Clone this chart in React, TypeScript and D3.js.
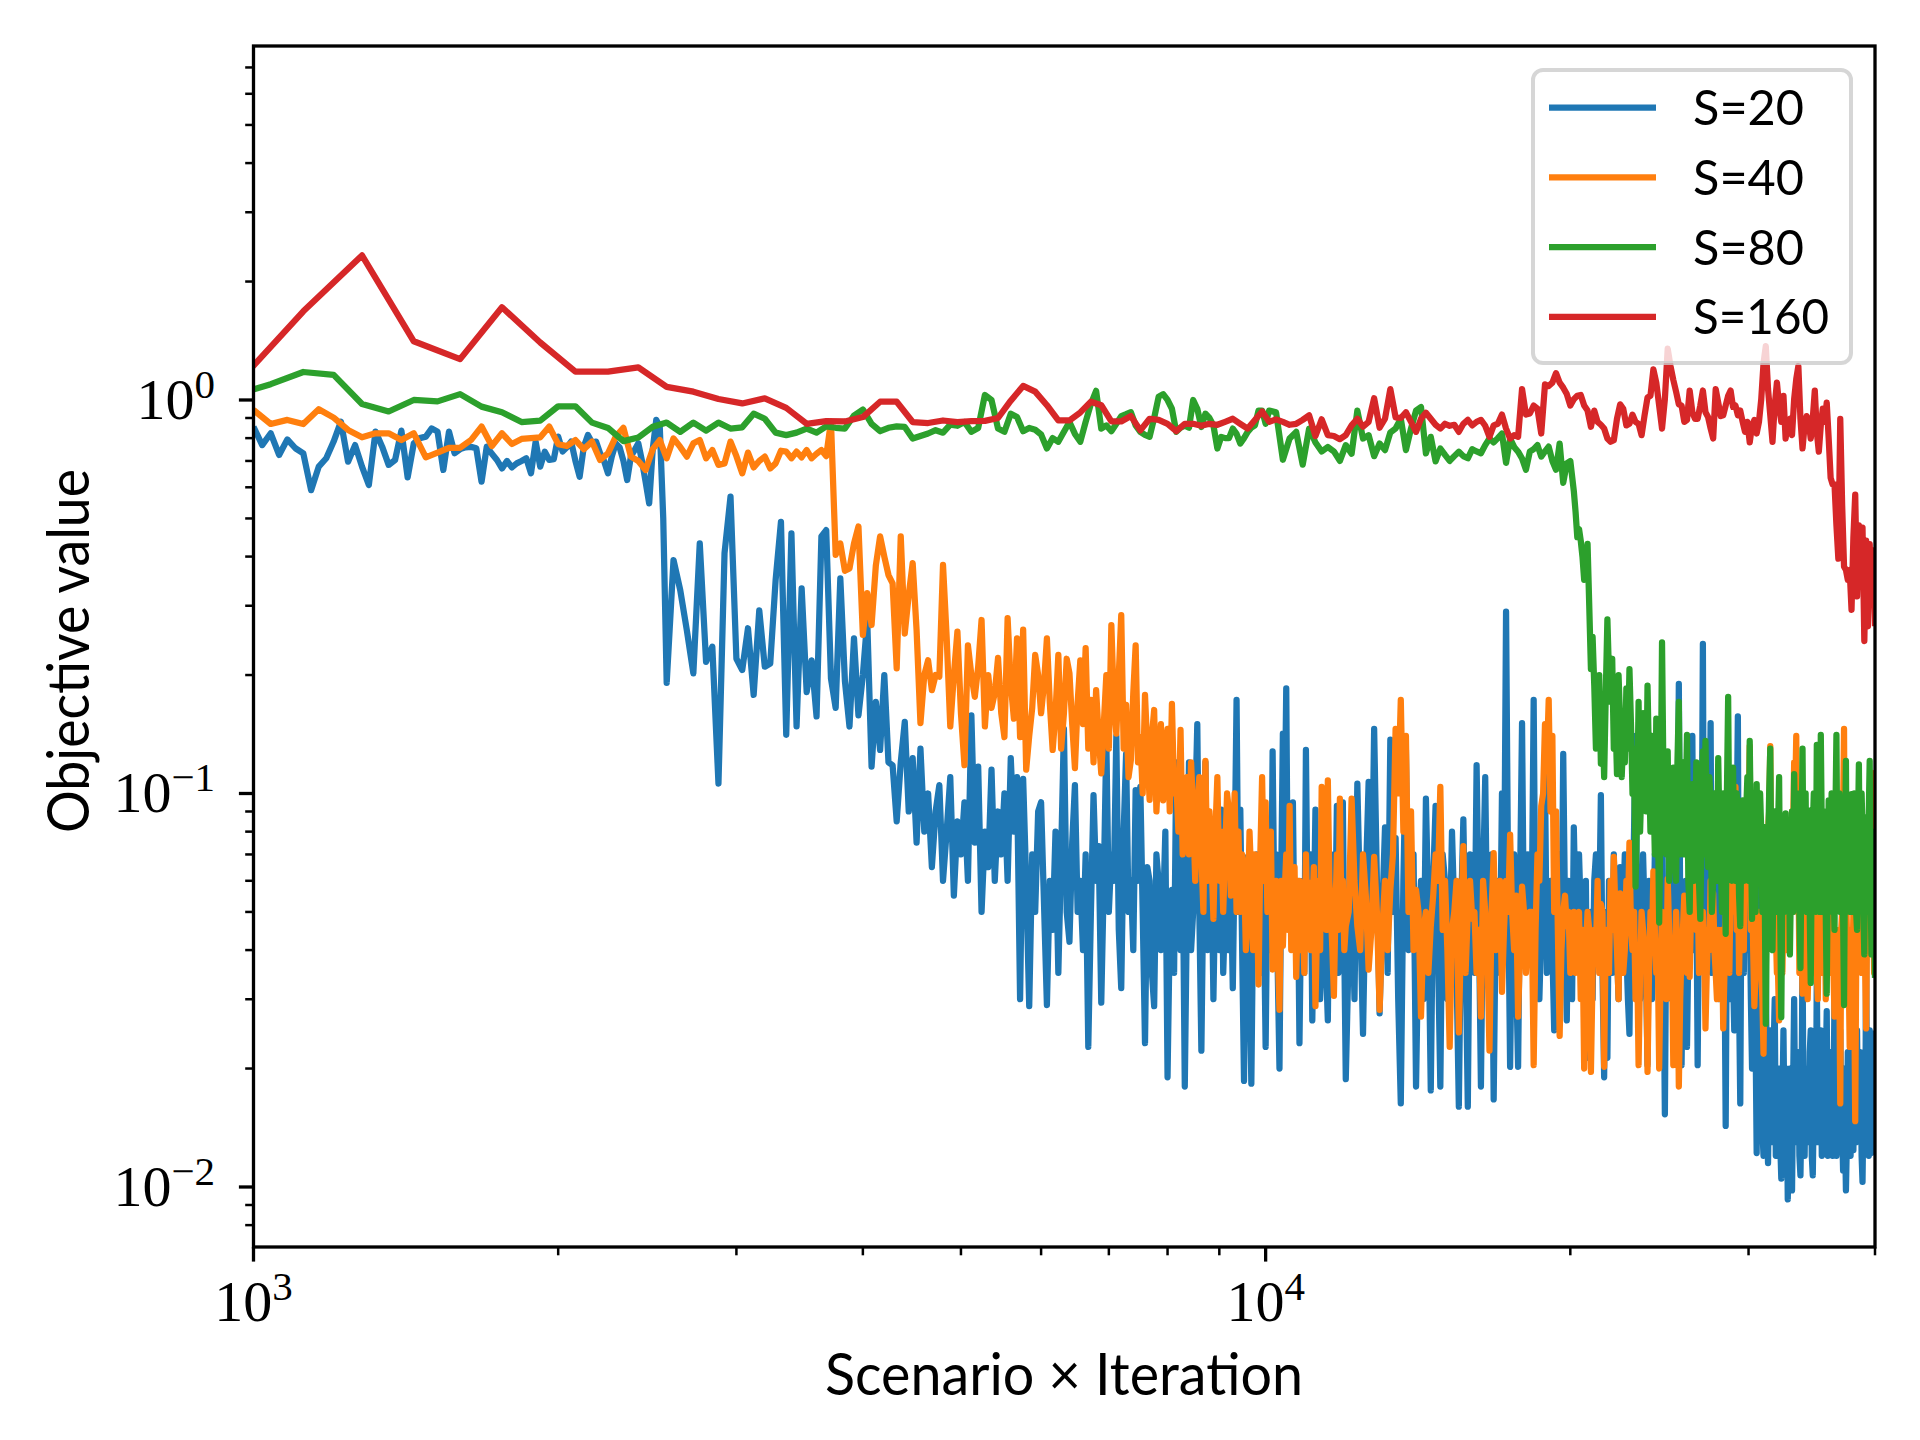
import React from 'react';
import * as d3 from 'd3';

// ---- data ----
// each segment: [first x, last x, values evenly spaced in between]

// S=20
const s20a = [0.855, 0.768, 0.823, 0.725, 0.794, 0.754, 0.732, 0.59, 0.677, 0.711, 0.784, 0.881, 0.697, 0.768, 0.677, 0.608, 0.831, 0.761, 0.684, 0.704, 0.836, 0.636, 0.776, 0.8, 0.807, 0.847, 0.831, 0.664, 0.831, 0.732, 0.75, 0.758, 0.76, 0.754, 0.62, 0.761, 0.73, 0.704, 0.67, 0.7, 0.674, 0.69, 0.7, 0.711, 0.651, 0.784, 0.677, 0.739, 0.704, 0.707, 0.807, 0.74, 0.758, 0.784, 0.7, 0.638, 0.76, 0.815, 0.78, 0.784, 0.732, 0.7, 0.651, 0.72, 0.776, 0.758, 0.7, 0.626, 0.72, 0.746, 0.776, 0.7, 0.62, 0.546, 0.75, 0.89, 0.855, 0.5];
const s20b = [0.191, 0.392, 0.329, 0.26, 0.202, 0.432, 0.216, 0.236, 0.106, 0.408, 0.568, 0.22, 0.206, 0.263, 0.178, 0.292, 0.21, 0.214, 0.349, 0.49, 0.141, 0.458, 0.148, 0.332, 0.181, 0.218, 0.157, 0.45, 0.467, 0.196, 0.165, 0.352, 0.193, 0.148, 0.248, 0.158, 0.2, 0.276, 0.117, 0.171, 0.129, 0.2, 0.12, 0.118, 0.085, 0.12, 0.152, 0.09, 0.123, 0.075, 0.13, 0.08, 0.1, 0.065, 0.09, 0.105, 0.06, 0.08, 0.11, 0.055, 0.085, 0.07, 0.095, 0.06, 0.158, 0.075, 0.117, 0.05, 0.08, 0.065, 0.115, 0.06, 0.09, 0.07, 0.1, 0.06, 0.123, 0.08, 0.11, 0.03, 0.109, 0.06, 0.0288, 0.07, 0.05, 0.09, 0.095];
const s20c = [
  0.029, 0.06, 0.045, 0.08, 0.035, 0.07, 0.146, 0.05, 0.042, 0.075,
  0.105, 0.05, 0.06, 0.04, 0.07, 0.0227, 0.05, 0.099, 0.06, 0.0735,
  0.0294, 0.06, 0.137, 0.05, 0.07, 0.06, 0.14, 0.045, 0.032, 0.08,
  0.126, 0.05, 0.06, 0.04, 0.102, 0.06, 0.104, 0.05, 0.0232, 0.065,
  0.06, 0.035, 0.0288, 0.07, 0.0594, 0.04, 0.05, 0.08, 0.019, 0.045,
  0.0569, 0.035, 0.12, 0.06, 0.04, 0.07, 0.018, 0.05, 0.12, 0.04,
  0.05, 0.09, 0.15, 0.05, 0.0222, 0.06, 0.12, 0.04, 0.05, 0.07,
  0.03, 0.06, 0.07, 0.04, 0.091, 0.035, 0.05, 0.08, 0.04, 0.06,
  0.032, 0.07, 0.173, 0.05, 0.091, 0.04, 0.0186, 0.06, 0.069, 0.035,
  0.0183, 0.05, 0.04, 0.07, 0.06, 0.035, 0.08, 0.05, 0.0227, 0.06,
  0.06, 0.04, 0.128, 0.05, 0.07, 0.035, 0.02, 0.06, 0.142, 0.08,
  0.185, 0.05, 0.05, 0.07, 0.095, 0.04, 0.04, 0.06, 0.0232, 0.05,
  0.06, 0.035, 0.129, 0.05, 0.05, 0.07, 0.0265, 0.05, 0.091, 0.04,
  0.05, 0.03, 0.04, 0.07, 0.06, 0.035, 0.0265, 0.06, 0.05, 0.04,
  0.07, 0.05, 0.093, 0.035, 0.045, 0.06, 0.095, 0.04, 0.0188,
];
const s20d = [
  0.04, 0.06, 0.03, 0.106, 0.05, 0.0245, 0.06, 0.107, 0.045, 0.146,
  0.06, 0.0276, 0.05, 0.082, 0.035, 0.137, 0.05, 0.077, 0.03, 0.0163,
  0.06, 0.129, 0.04, 0.05, 0.07, 0.018, 0.045, 0.06, 0.03, 0.097,
  0.05, 0.0176, 0.06, 0.093, 0.04, 0.018, 0.07, 0.06, 0.03, 0.04,
  0.08, 0.05, 0.035, 0.016, 0.05, 0.086, 0.04, 0.016, 0.07, 0.06,
  0.035, 0.118, 0.05, 0.018, 0.06, 0.11, 0.04, 0.05, 0.07, 0.0167,
  0.05, 0.06, 0.035, 0.1, 0.05, 0.29, 0.06, 0.0202, 0.05, 0.07,
  0.035, 0.0202, 0.06, 0.151, 0.04, 0.05, 0.07, 0.04, 0.05, 0.173,
  0.04, 0.06, 0.03, 0.045, 0.07, 0.113, 0.035, 0.05, 0.06, 0.04,
  0.025, 0.035, 0.07, 0.06, 0.04, 0.126, 0.05, 0.0265, 0.06, 0.05,
  0.03, 0.082, 0.05, 0.04, 0.07, 0.05, 0.03, 0.035, 0.06, 0.0213,
  0.045, 0.05, 0.03, 0.06, 0.07, 0.04, 0.05, 0.099, 0.035, 0.019,
  0.05, 0.0213, 0.06, 0.05, 0.035, 0.07, 0.05, 0.04, 0.03, 0.065,
  0.04, 0.05, 0.07, 0.04, 0.03, 0.0245, 0.06, 0.05, 0.08, 0.14,
  0.05, 0.06, 0.03, 0.04, 0.07, 0.05, 0.035, 0.0204, 0.06, 0.0524,
  0.03, 0.04, 0.07, 0.06, 0.035, 0.05, 0.06, 0.099, 0.04, 0.0153,
  0.05, 0.04, 0.06, 0.05, 0.03, 0.06, 0.05, 0.1, 0.06, 0.19,
  0.05, 0.0204, 0.04, 0.05, 0.06, 0.0227, 0.04, 0.06, 0.08, 0.14,
  0.04, 0.05, 0.06, 0.0204, 0.05, 0.1, 0.06, 0.24, 0.035, 0.06,
  0.05, 0.04, 0.07, 0.151, 0.035, 0.05, 0.06, 0.035, 0.05, 0.102,
  0.03, 0.04, 0.06, 0.03, 0.04, 0.0143, 0.05, 0.04, 0.03, 0.05,
  0.06, 0.035, 0.025, 0.06, 0.08, 0.157, 0.03, 0.0163, 0.06, 0.05,
  0.035, 0.087, 0.05, 0.04, 0.06,
];
const s20e = [
  0.0524, 0.03, 0.02, 0.04, 0.045, 0.025, 0.0122, 0.03, 0.06, 0.018,
  0.03, 0.014, 0.012, 0.025, 0.04, 0.015, 0.0115, 0.02, 0.025, 0.013,
  0.014, 0.022, 0.03, 0.012, 0.012, 0.018, 0.02, 0.013, 0.0105, 0.016,
  0.025, 0.014, 0.015, 0.02, 0.0093, 0.013, 0.02, 0.015, 0.0098, 0.018,
  0.03, 0.014, 0.013, 0.02, 0.022, 0.012, 0.0107, 0.016, 0.04, 0.014,
  0.012, 0.018, 0.02, 0.013, 0.015, 0.022, 0.025, 0.012, 0.0107, 0.016,
  0.018, 0.013, 0.035, 0.015, 0.013, 0.02, 0.025, 0.012, 0.015, 0.018,
  0.0133, 0.02, 0.028, 0.012, 0.016, 0.02, 0.022, 0.013, 0.012, 0.018,
  0.03, 0.014, 0.012, 0.016, 0.02, 0.013, 0.025, 0.015, 0.014, 0.011,
  0.02, 0.014, 0.0098, 0.013, 0.022, 0.015, 0.016, 0.012, 0.035, 0.014,
  0.0124, 0.018, 0.02, 0.013, 0.025, 0.014, 0.014, 0.02, 0.022, 0.012,
  0.0103, 0.016, 0.02, 0.013, 0.04, 0.015, 0.015, 0.012, 0.025, 0.014,
  0.0122, 0.018, 0.02, 0.014, 0.025,
];

// S=40
const s40a = [0.943, 0.869, 0.89, 0.869, 0.947, 0.902, 0.839, 0.804, 0.823, 0.823, 0.791, 0.823, 0.715, 0.735, 0.756, 0.756, 0.791, 0.856, 0.764, 0.823, 0.773, 0.796, 0.8, 0.804, 0.856, 0.772, 0.764, 0.791, 0.75, 0.784, 0.704, 0.732, 0.807, 0.85, 0.718, 0.7, 0.664, 0.75, 0.791, 0.711, 0.799, 0.76, 0.718, 0.776, 0.791, 0.711, 0.746, 0.684, 0.69, 0.784, 0.72, 0.651, 0.735, 0.674, 0.7, 0.718, 0.67, 0.69, 0.743, 0.739, 0.711, 0.739, 0.715, 0.746, 0.711, 0.73, 0.746, 0.72, 0.881, 0.404, 0.432, 0.368, 0.373, 0.432, 0.477, 0.253, 0.323, 0.268, 0.38, 0.45, 0.4, 0.359, 0.342, 0.208, 0.45, 0.255, 0.32, 0.385, 0.26, 0.151, 0.2, 0.218, 0.183, 0.2, 0.198, 0.381, 0.25, 0.148, 0.2, 0.258, 0.16, 0.118, 0.238, 0.2, 0.176, 0.21, 0.276, 0.148, 0.2, 0.165, 0.18, 0.221, 0.16, 0.139, 0.279, 0.19, 0.155, 0.248, 0.139, 0.261, 0.115, 0.14, 0.165, 0.225, 0.2, 0.16];
const s40b = [
  0.19, 0.248, 0.17, 0.129, 0.16, 0.225, 0.13, 0.16, 0.22, 0.202,
  0.15, 0.116, 0.17, 0.218, 0.15, 0.234, 0.13, 0.173, 0.12, 0.183,
  0.14, 0.1125, 0.15, 0.2, 0.13, 0.268, 0.17, 0.142, 0.2, 0.284,
  0.13, 0.168, 0.11, 0.1217, 0.18, 0.238, 0.12, 0.139, 0.1, 0.178,
  0.13, 0.0963, 0.14, 0.163, 0.09, 0.12, 0.15, 0.096, 0.13, 0.146,
  0.09, 0.169, 0.1, 0.108, 0.08, 0.145, 0.07, 0.096, 0.11, 0.07,
  0.12, 0.09, 0.06, 0.091, 0.11, 0.07, 0.05, 0.121, 0.06, 0.09,
  0.07, 0.048, 0.08, 0.11, 0.06, 0.08, 0.05, 0.0705, 0.1, 0.09,
  0.055, 0.075, 0.1, 0.05, 0.08, 0.05, 0.07, 0.065, 0.04, 0.048,
  0.08, 0.06, 0.04, 0.07, 0.055, 0.0327, 0.07, 0.11, 0.06, 0.095,
  0.05, 0.06, 0.08, 0.0357, 0.05, 0.06, 0.04, 0.0282, 0.06, 0.041,
  0.055, 0.07, 0.045, 0.093, 0.04, 0.05, 0.065, 0.0342, 0.05, 0.06,
  0.04, 0.05, 0.035, 0.07, 0.045, 0.0594, 0.04, 0.05, 0.065, 0.0288,
  0.045, 0.06, 0.04, 0.104, 0.05, 0.07, 0.045, 0.108, 0.06, 0.05,
  0.04, 0.0306, 0.05, 0.07, 0.045, 0.097, 0.05, 0.06, 0.04, 0.046,
];
const s40c = [
  0.05, 0.097, 0.06, 0.046, 0.04, 0.07, 0.055, 0.0357, 0.045, 0.069,
  0.05, 0.0282, 0.045, 0.06, 0.04, 0.0569, 0.07, 0.146, 0.1, 0.173,
  0.08, 0.14, 0.05, 0.09, 0.04, 0.0569, 0.05, 0.0271, 0.045, 0.05,
  0.035, 0.046, 0.055, 0.07, 0.06, 0.104, 0.045, 0.06, 0.04, 0.0227,
  0.045, 0.05, 0.06, 0.0247, 0.045, 0.0735, 0.035, 0.05, 0.06, 0.048,
  0.05, 0.035, 0.045, 0.0271, 0.06, 0.05, 0.04, 0.0222, 0.05, 0.0705,
  0.04, 0.05, 0.06, 0.0313, 0.045, 0.06, 0.05, 0.0786, 0.05, 0.04,
  0.055, 0.0271, 0.04, 0.058, 0.05, 0.035, 0.045, 0.05, 0.05, 0.0204,
  0.045, 0.07, 0.06, 0.093, 0.1, 0.15, 0.12, 0.173, 0.09, 0.14,
  0.05, 0.09, 0.045, 0.0242, 0.04, 0.05, 0.055, 0.046, 0.05, 0.035,
  0.04, 0.05, 0.035, 0.048, 0.05, 0.03, 0.045, 0.02, 0.04, 0.05,
  0.045, 0.0196, 0.035, 0.045, 0.04, 0.06, 0.035, 0.0524, 0.05, 0.0202,
  0.045, 0.04, 0.035, 0.06, 0.045, 0.069, 0.05, 0.04, 0.03, 0.0557,
  0.045, 0.035, 0.04, 0.06, 0.05, 0.075, 0.045, 0.04, 0.05, 0.03,
  0.04, 0.0204, 0.035, 0.05, 0.045, 0.04, 0.04, 0.0196, 0.035, 0.05,
  0.04, 0.0634, 0.045, 0.035, 0.04, 0.02, 0.035, 0.05, 0.045, 0.04,
  0.03, 0.0607, 0.045, 0.035, 0.04, 0.0204, 0.035, 0.05, 0.04, 0.018,
  0.03, 0.04, 0.045, 0.055, 0.04, 0.035, 0.045, 0.0342, 0.05, 0.07,
  0.06, 0.104, 0.045, 0.06, 0.035, 0.04, 0.045, 0.05, 0.04, 0.0253,
  0.035, 0.045, 0.04, 0.06, 0.045, 0.0557, 0.04, 0.035, 0.03, 0.045,
  0.04, 0.03, 0.045, 0.0253, 0.035, 0.05, 0.045, 0.0414, 0.035, 0.06,
  0.05, 0.08, 0.06, 0.104, 0.045, 0.07, 0.035, 0.05, 0.045, 0.0594,
  0.04, 0.07, 0.06, 0.1, 0.08, 0.132, 0.045, 0.06, 0.04, 0.0288,
  0.035, 0.045, 0.04, 0.05, 0.045, 0.035, 0.03, 0.0218, 0.04, 0.045,
  0.05, 0.08, 0.09, 0.132, 0.05, 0.07, 0.04, 0.05, 0.045, 0.035,
  0.035, 0.0265, 0.04, 0.045, 0.035, 0.05, 0.045, 0.06, 0.04, 0.05,
  0.05, 0.0735, 0.06, 0.09, 0.08, 0.12, 0.1, 0.14, 0.05, 0.07,
  0.035, 0.045, 0.045, 0.031, 0.035, 0.045, 0.04, 0.05, 0.03, 0.04,
  0.045, 0.06, 0.035, 0.05, 0.04, 0.048, 0.045, 0.035, 0.03, 0.05,
  0.045, 0.04, 0.035, 0.06, 0.04, 0.0594, 0.03, 0.045, 0.045, 0.035,
  0.035, 0.05, 0.045, 0.04, 0.035, 0.0271, 0.045, 0.035, 0.03, 0.045,
  0.035, 0.0163, 0.045, 0.05, 0.09, 0.146, 0.04, 0.06, 0.045, 0.035,
  0.035, 0.0227, 0.045, 0.04, 0.035, 0.05, 0.03, 0.0147, 0.035, 0.04,
  0.045, 0.06, 0.05, 0.0735, 0.035, 0.05, 0.045, 0.035, 0.035, 0.0253,
  0.045, 0.05, 0.06, 0.08, 0.07, 0.113, 0.045, 0.06, 0.035, 0.04,
];

// S=80
const s80a = [1.03, 1.097, 1.178, 1.158, 0.977, 0.935, 1.0, 0.992, 1.035, 0.962, 0.931, 0.879, 0.886, 0.964, 0.964, 0.876, 0.849, 0.786, 0.803, 0.855, 0.876, 0.83, 0.876, 0.836, 0.876, 0.846, 0.852, 0.923, 0.896, 0.826, 0.814, 0.826, 0.846, 0.826, 0.857, 0.85, 0.846, 0.913, 0.946, 0.87, 0.833, 0.85, 0.857, 0.854, 0.798, 0.81, 0.822, 0.838, 0.826, 0.866, 0.86, 0.879, 0.83, 0.849, 1.03, 1.0, 0.846, 0.83, 0.923, 0.905, 0.833, 0.849, 0.84, 0.817, 0.753, 0.8, 0.783, 0.83, 0.879, 0.82, 0.783, 0.88, 0.977, 1.055, 0.846, 0.862, 0.833, 0.87, 0.91, 0.92, 0.931, 0.862, 0.83, 0.815, 0.806, 0.9, 1.02, 1.035, 1.0, 0.95, 0.83, 0.85, 0.86, 0.85, 1.0, 0.95, 0.854, 0.923, 0.9, 0.862, 0.753, 0.806, 0.8, 0.8, 0.846, 0.82, 0.775, 0.8, 0.83, 0.85, 0.862, 0.94, 0.94, 0.87];
const s80b = [0.94, 0.93, 0.705, 0.798, 0.83, 0.685, 0.846, 0.78, 0.74, 0.76, 0.74, 0.7, 0.768, 0.73, 0.94, 0.798, 0.814, 0.72, 0.775, 0.746, 0.827, 0.846, 0.896, 0.746, 0.846, 0.94, 0.96, 0.732, 0.806, 0.698, 0.753, 0.725, 0.7, 0.72, 0.739, 0.72, 0.711, 0.75, 0.74, 0.732, 0.768, 0.798, 0.78, 0.8, 0.822, 0.692, 0.798, 0.76, 0.739, 0.71, 0.665, 0.739, 0.75, 0.768, 0.718, 0.74, 0.761, 0.7, 0.665, 0.775, 0.616, 0.69, 0.7];
const s80c = [
  0.587, 0.52, 0.448, 0.47, 0.439, 0.4, 0.349, 0.38, 0.431, 0.3,
  0.207, 0.25, 0.188, 0.13, 0.15, 0.2, 0.119, 0.16, 0.11, 0.18,
  0.277, 0.2, 0.171, 0.22, 0.13, 0.16, 0.112, 0.2, 0.152, 0.11,
  0.14, 0.12, 0.185, 0.13, 0.207, 0.15, 0.0997, 0.13, 0.058, 0.09,
  0.171, 0.08, 0.11, 0.16, 0.141, 0.09, 0.188, 0.12, 0.08, 0.14,
  0.1057, 0.07, 0.155, 0.1, 0.047, 0.09, 0.242, 0.11, 0.09, 0.07,
  0.128, 0.06, 0.07, 0.1, 0.1164, 0.08, 0.06, 0.12, 0.171, 0.07,
  0.096, 0.12, 0.07, 0.09, 0.141, 0.06, 0.05, 0.09, 0.1057, 0.06,
  0.07, 0.12, 0.09, 0.06, 0.048, 0.08, 0.128, 0.07, 0.136, 0.09,
  0.065, 0.11, 0.096, 0.05, 0.06, 0.1, 0.09, 0.06, 0.123, 0.08,
  0.07, 0.05, 0.1, 0.07, 0.044, 0.1, 0.176, 0.07, 0.08, 0.06,
  0.1164, 0.07, 0.06, 0.1, 0.09, 0.055, 0.046, 0.08, 0.096, 0.06,
  0.07, 0.09, 0.11, 0.06, 0.136, 0.08, 0.048, 0.07, 0.09, 0.05,
  0.1057, 0.07, 0.06, 0.1, 0.08, 0.05, 0.0822, 0.06, 0.026, 0.05,
  0.07, 0.1, 0.13, 0.06, 0.04, 0.07, 0.09, 0.05, 0.06, 0.08,
  0.11, 0.05, 0.027, 0.06, 0.07, 0.05, 0.089, 0.06, 0.05, 0.08,
  0.039, 0.06, 0.09, 0.05, 0.112, 0.07, 0.06, 0.1, 0.08, 0.05,
  0.036, 0.07, 0.13, 0.06, 0.07, 0.1, 0.05, 0.07, 0.0906, 0.05,
  0.033, 0.07, 0.08, 0.1, 0.06, 0.05, 0.133, 0.07, 0.07, 0.05,
  0.141, 0.08, 0.05, 0.09, 0.08, 0.05, 0.031, 0.06, 0.096, 0.05,
  0.06, 0.1, 0.08, 0.06, 0.045, 0.09, 0.141, 0.06, 0.07, 0.1,
  0.05, 0.08, 0.09, 0.05, 0.029, 0.07, 0.121, 0.05, 0.06, 0.09,
  0.08, 0.05, 0.0997, 0.07, 0.05, 0.1, 0.07, 0.05, 0.045, 0.08,
  0.1186, 0.06, 0.06, 0.1, 0.08, 0.05, 0.039, 0.07, 0.0871, 0.05,
  0.06, 0.09, 0.121, 0.06, 0.039, 0.08, 0.07, 0.05, 0.034,
];

// S=160
const s160 = [1.09, 1.68, 2.33, 1.41, 1.27, 1.72, 1.4, 1.18, 1.18, 1.21, 1.08, 1.05, 1.006, 0.98, 1.01, 0.955, 0.87, 0.884, 0.882, 0.905, 0.99, 0.99, 0.879, 0.874, 0.887, 0.879, 0.884, 0.885, 0.9, 0.996, 1.086, 1.05, 0.97, 0.887, 0.887, 0.93, 0.99, 0.97, 0.882, 0.882, 0.91, 0.837, 0.896, 0.89, 0.87, 0.833, 0.87, 0.87, 0.86, 0.87, 0.865, 0.88, 0.896, 0.87, 0.846, 0.89, 0.935, 0.88, 0.893, 0.88, 0.865, 0.87, 0.89, 0.914, 0.81, 0.893, 0.814, 0.81, 0.795, 0.814, 0.862, 0.896, 0.855, 0.88, 1.01, 0.85, 0.896, 1.066, 0.903, 0.9, 0.931, 0.88, 0.83, 0.896, 0.928, 0.896, 0.865, 0.846, 0.87, 0.86, 0.865, 0.83, 0.87, 0.89, 0.862, 0.88, 0.89, 0.86, 0.806, 0.862, 0.87, 0.918, 0.846, 0.798, 0.814, 0.806, 1.066, 0.918, 0.924, 0.968, 0.95, 0.822, 1.095, 1.085, 1.107, 1.17, 1.107, 1.075, 1.035, 0.968, 1.005, 1.025, 1.03, 0.968, 0.94, 0.855, 0.94, 0.88, 0.865, 0.846, 0.798, 0.783, 0.79, 0.896, 0.975, 0.95, 0.862, 0.87, 0.918, 0.88, 0.87, 0.814, 0.914, 1.015, 1.025, 1.196, 1.107, 0.968, 0.846, 1.005, 1.35, 1.22, 1.125, 1.05, 0.975, 0.968, 0.88, 0.89, 1.057, 0.931, 0.896, 0.896, 0.968, 1.057, 0.931, 0.905, 0.846, 0.798, 1.066, 0.985, 0.91, 0.914, 0.968, 1.025, 1.057, 0.96, 0.968, 0.914, 0.94, 0.88, 0.83, 0.88, 0.78, 0.862, 0.89, 0.822, 0.88, 1.005, 1.24, 1.37, 1.066, 0.914, 0.783, 0.968, 1.107, 0.968, 0.88, 1.025, 0.798, 0.88, 0.896, 0.814, 1.005, 1.13, 1.22, 0.896, 0.753, 0.862, 0.91, 0.88, 0.798, 0.896, 1.057, 0.83, 0.739, 0.862, 0.95, 0.88, 0.985, 0.798, 0.634, 0.61, 0.61, 0.48, 0.395, 0.896, 0.54, 0.377, 0.37, 0.349, 0.37, 0.293, 0.447, 0.575, 0.317, 0.48, 0.415, 0.474, 0.244, 0.439, 0.266, 0.43, 0.317, 0.415, 0.266];

const seriesLabels = ['S=20', 'S=40', 'S=80', 'S=160'];
const seriesColors = ['#1f77b4', '#ff7f0e', '#2ca02c', '#d62728'];
const seriesSegments: [number, number, number[]][][] = [
  [[1000, 2540, s20a], [2560, 6000, s20b], [6080, 12000, s20c], [12080, 30000, s20d], [30080, 40000, s20e]],
  [[1000, 6000, s40a], [6040, 12000, s40b], [12080, 40000, s40c]],
  [[960, 10000, s80a], [10080, 20000, s80b], [20160, 40000, s80c]],
  [[960, 40000, s160]],
];

const xMajorExps = [3, 4];
const yMajorExps = [-2, -1, 0];

// ---- layout ----
const W = 1920;
const H = 1440;
const PL = 253.5;
const PR = 1875;
const PT = 46;
const PB = 1247;
const LW = 6.25;

const serif = '"Liberation Serif", "DejaVu Serif", serif';
const sans = 'Lato, "Open Sans", sans-serif';

interface Pt { x: number; v: number }

function buildPoints(segs: [number, number, number[]][]): Pt[] {
  const pts: Pt[] = [];
  segs.forEach(([x0, x1, vals]) => {
    const n = vals.length;
    vals.forEach((v, i) => {
      pts.push({ x: n > 1 ? x0 + ((x1 - x0) * i) / (n - 1) : x0, v });
    });
  });
  return pts;
}

function PowLabel({ exp, x, y, anchor }: { exp: number; x: number; y: number; anchor: string }) {
  const e = exp < 0 ? `\u2212${-exp}` : `${exp}`;
  return (
    <text x={x} y={y} textAnchor={anchor} fontFamily={serif} fontSize={58} fill="#000">
      10
      <tspan fontSize={41} dy={-21}>{e}</tspan>
    </text>
  );
}

export default function App() {
  const x = d3.scaleLog().domain([1000, 40000]).range([PL, PR]);
  const y = d3
    .scaleLog()
    .domain([Math.pow(10, -2.1525), Math.pow(10, 0.8996)])
    .range([PB, PT]);

  const line = d3
    .line<Pt>()
    .x((d) => x(d.x))
    .y((d) => y(d.v));

  const xMinor: number[] = [];
  [3, 4].forEach((e) => {
    for (let m = 2; m <= 9; m++) {
      const v = m * Math.pow(10, e);
      if (v <= 40000) xMinor.push(v);
    }
  });
  const [yLo, yHi] = y.domain();
  const yMinor: number[] = [];
  [-3, -2, -1, 0].forEach((e) => {
    for (let m = 2; m <= 9; m++) {
      const v = m * Math.pow(10, e);
      if (v >= yLo && v <= yHi) yMinor.push(v);
    }
  });

  const legendX = 1533;
  const legendY = 70;
  const rowGap = 69.7;
  const textLens = [111, 111, 111, 136];

  return (
    <svg
      width={W}
      height={H}
      viewBox={`0 0 ${W} ${H}`}
      style={{ position: 'absolute', left: 0, top: 0, background: '#fff' }}
    >
      <defs>
        <clipPath id="plot-clip">
          <rect x={PL} y={PT} width={PR - PL} height={PB - PT} />
        </clipPath>
      </defs>
      <rect x={0} y={0} width={W} height={H} fill="#fff" />

      <g clipPath="url(#plot-clip)">
        {seriesSegments.map((segs, i) => (
          <path
            key={seriesLabels[i]}
            d={line(buildPoints(segs)) || ''}
            fill="none"
            stroke={seriesColors[i]}
            strokeWidth={LW}
            strokeLinejoin="round"
            strokeLinecap="butt"
          />
        ))}
      </g>

      {/* minor ticks */}
      {xMinor.map((v) => (
        <line key={`xm${v}`} x1={x(v)} x2={x(v)} y1={PB} y2={PB + 8.3} stroke="#000" strokeWidth={2.5} />
      ))}
      {yMinor.map((v) => (
        <line key={`ym${v}`} x1={PL - 8.3} x2={PL} y1={y(v)} y2={y(v)} stroke="#000" strokeWidth={2.5} />
      ))}

      {/* major ticks and labels */}
      {xMajorExps.map((e) => {
        const px = x(Math.pow(10, e));
        return (
          <g key={`xM${e}`}>
            <line x1={px} x2={px} y1={PB} y2={PB + 14.6} stroke="#000" strokeWidth={3.3} />
            <PowLabel exp={e} x={px} y={1321} anchor="middle" />
          </g>
        );
      })}
      {yMajorExps.map((e) => {
        const py = y(Math.pow(10, e));
        return (
          <g key={`yM${e}`}>
            <line x1={PL - 14.6} x2={PL} y1={py} y2={py} stroke="#000" strokeWidth={3.3} />
            <PowLabel exp={e} x={215} y={py + 19} anchor="end" />
          </g>
        );
      })}

      {/* spines */}
      <rect x={PL} y={PT} width={PR - PL} height={PB - PT} fill="none" stroke="#000" strokeWidth={3.3} />

      {/* axis labels */}
      <text
        x={1064}
        y={1395}
        textAnchor="middle"
        fontFamily={sans}
        fontSize={58}
        textLength={478}
        lengthAdjust="spacingAndGlyphs"
      >
        Scenario × Iteration
      </text>
      <text
        transform="translate(89, 651) rotate(-90)"
        textAnchor="middle"
        fontFamily={sans}
        fontSize={58}
        textLength={364}
        lengthAdjust="spacingAndGlyphs"
      >
        Objective value
      </text>

      {/* legend */}
      <rect
        x={legendX}
        y={legendY}
        width={318}
        height={293}
        rx={10}
        ry={10}
        fill="#fff"
        fillOpacity={0.8}
        stroke="#cccccc"
        strokeOpacity={0.8}
        strokeWidth={4}
      />
      {seriesLabels.map((lab, i) => {
        const cy = 107.7 + i * rowGap;
        return (
          <g key={`lg${lab}`}>
            <line x1={1549} x2={1656} y1={cy} y2={cy} stroke={seriesColors[i]} strokeWidth={LW} />
            <text
              x={1693}
              y={cy + 17.5}
              fontFamily={sans}
              fontSize={49}
              textLength={textLens[i]}
              lengthAdjust="spacingAndGlyphs"
            >
              {lab}
            </text>
          </g>
        );
      })}
    </svg>
  );
}
